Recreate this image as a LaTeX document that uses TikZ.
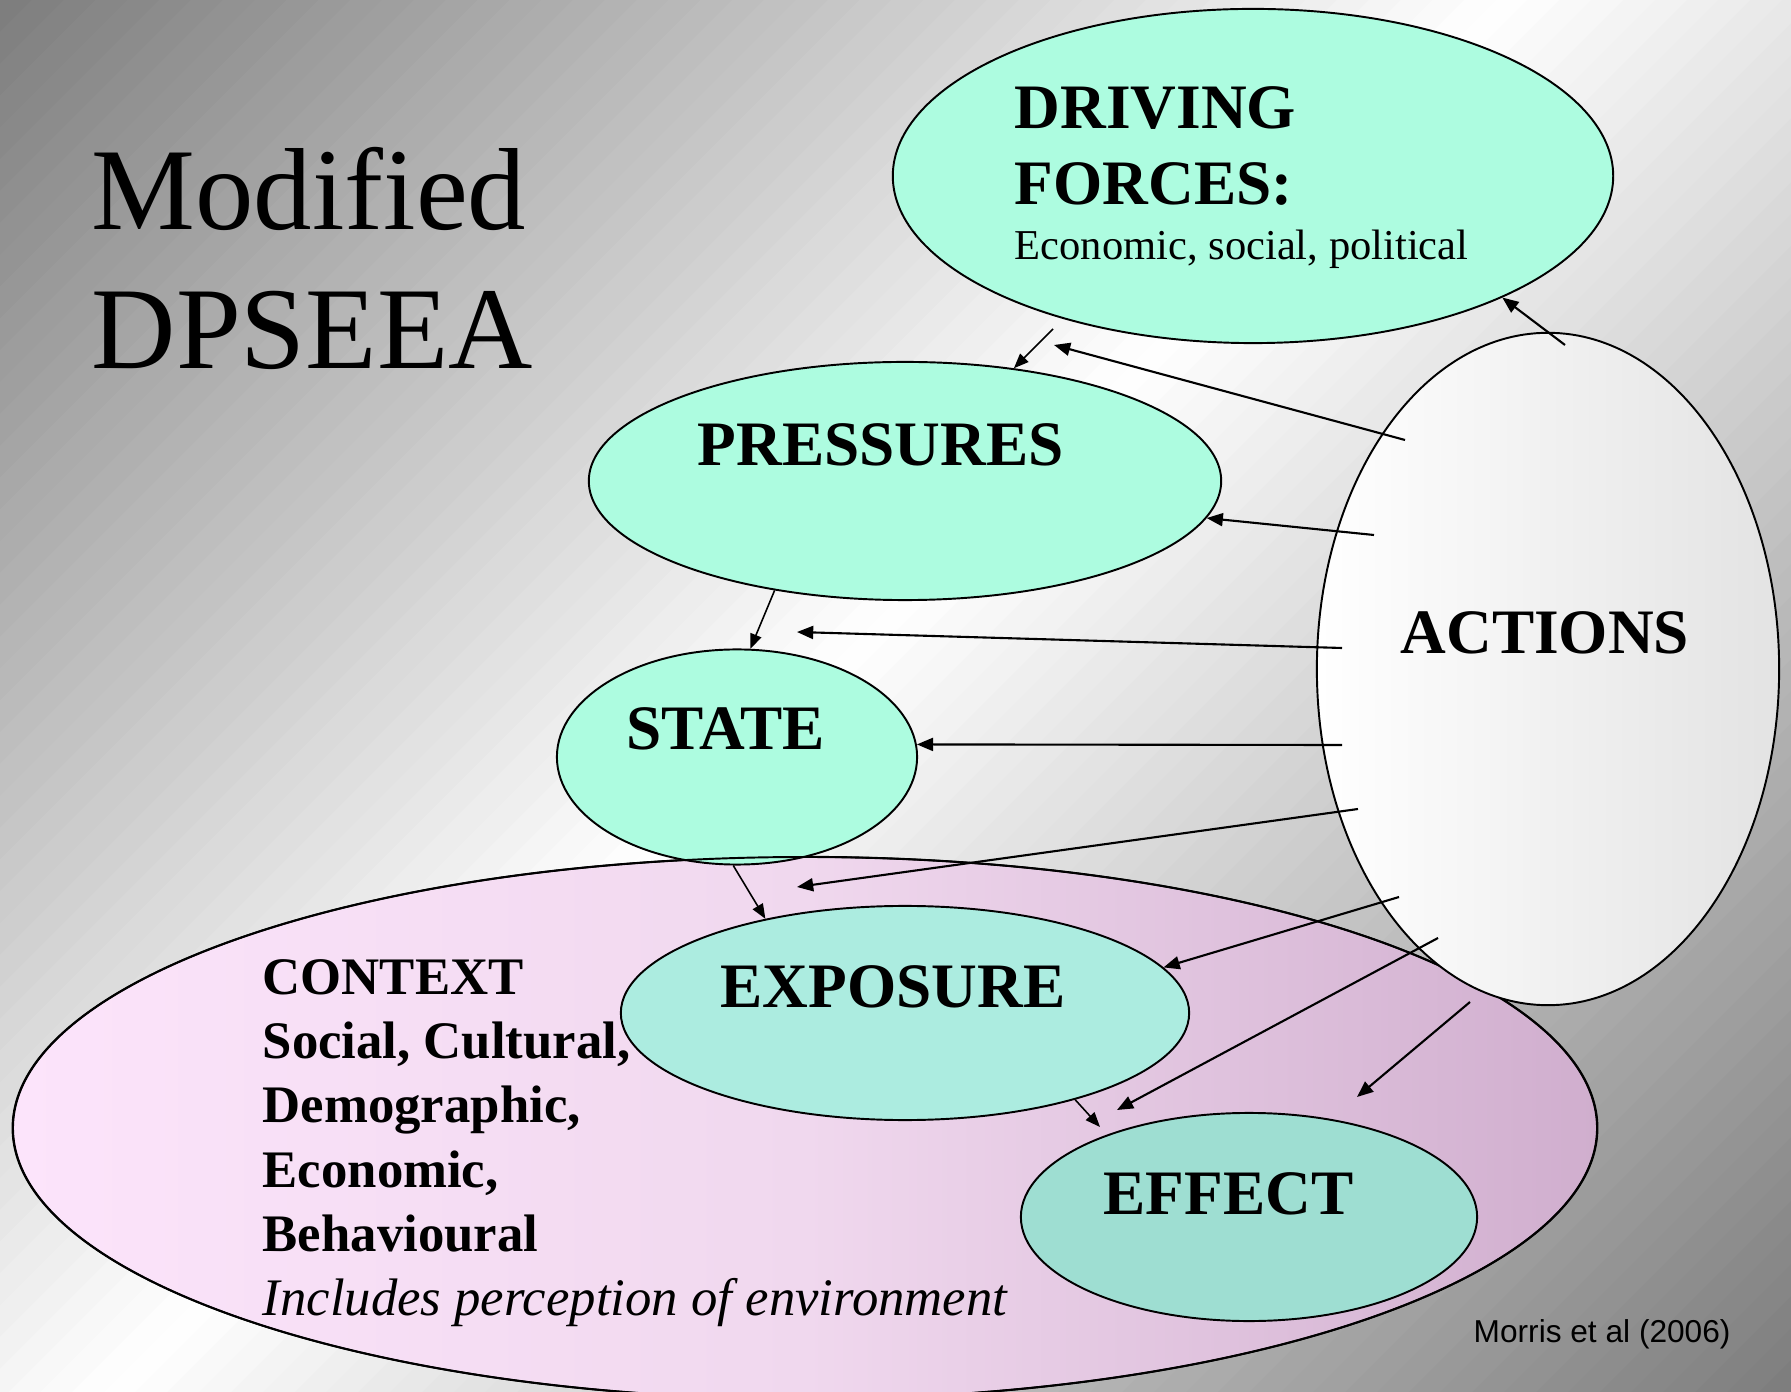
\documentclass[tikz,border=0pt]{standalone}
\usepackage{fontspec}
\setmainfont{Liberation Serif}
\newfontfamily\citefont{Liberation Sans}
\usetikzlibrary{shapes.geometric, arrows.meta, positioning}

\definecolor{bgdark}{RGB}{125,125,125}
\definecolor{mint}{RGB}{173,252,224}
\definecolor{mintexp}{RGB}{172,236,224}
\definecolor{minteff}{RGB}{158,222,210}
\definecolor{ctxlight}{RGB}{252,228,251}
\definecolor{ctxmid}{RGB}{240,216,238}
\definecolor{ctxdark}{RGB}{208,174,206}
\pgfdeclarehorizontalshading{ctxshade}{100bp}{color(0bp)=(ctxlight); color(25bp)=(ctxlight); color(50bp)=(ctxmid); color(75bp)=(ctxdark); color(100bp)=(ctxdark)}

\begin{document}
\begin{tikzpicture}[x=0.01cm, y=-0.01cm,
	stage/.style={ellipse, draw, line width=0.55pt, fill=mint, inner sep=0pt},
	stagelabel/.style={anchor=base west, inner sep=0pt, font=\fontsize{18}{21.7}\selectfont\bfseries},
	link/.style={line width=0.6pt, -{Triangle[length=4.6pt, width=3.7pt]}},
	shortlink/.style={line width=0.45pt, -{Triangle[length=4.2pt, width=3.3pt]}}]
	
	\useasboundingbox (0,0) rectangle (1791,1392);
	
	% Fundo: faixas diagonais
	\begin{scope}
		\clip (0,0) rectangle (1791,1392);
		\foreach \i in {0,...,99} {
			\pgfmathsetmacro{\sa}{\i*31.83}
			\pgfmathsetmacro{\sb}{\sa+34}
			\pgfmathsetmacro{\tm}{\sa+16}
			\pgfmathsetmacro{\p}{\tm<1500 ? 100-\tm/15 : (\tm-1500)/16.83}
			\fill[bgdark!\p!white] (\sa,0) -- (\sb,0) -- (\sb-1800,1800) -- (\sa-1800,1800) -- cycle;
		}
	\end{scope}
	
	% Contexto
	\node[ellipse, draw, line width=0.55pt, shading=ctxshade,
		minimum width=15.84cm, minimum height=5.42cm, inner sep=0pt] (context) at (805,1128) {};
	
	% Etapas
	\node[stage, minimum width=7.2cm, minimum height=3.34cm] (drive) at (1253,176) {};
	\node[stage, minimum width=6.32cm, minimum height=2.38cm] (pres) at (905,481) {};
	\node[stage, minimum width=3.6cm, minimum height=2.15cm] (state) at (737,757) {};
	\node[stage, fill=mintexp, minimum width=5.68cm, minimum height=2.14cm] (expo) at (905,1013) {};
	\node[stage, fill=minteff, minimum width=4.56cm, minimum height=2.08cm] (eff) at (1249,1217) {};
	\draw[line width=0.55pt] (context.center) ellipse [x radius=792, y radius=271];
	
	% Acoes
	\node[ellipse, draw, line width=0.55pt, left color=white, right color=black!11,
		minimum width=4.62cm, minimum height=6.72cm, inner sep=0pt] (act) at (1548,669) {};
	
	% Pontas livres das setas
	\coordinate (d0) at (1053,329);
	\coordinate (a1) at (1565,345);
	\coordinate (a2) at (1405,440);
	\coordinate (g1) at (1054,345);
	\coordinate (a3) at (1374,535);
	\coordinate (a4) at (1342,648);
	\coordinate (g2) at (797,632);
	\coordinate (a5) at (1342,745);
	\coordinate (a6) at (1358,809);
	\coordinate (g3) at (797,887);
	\coordinate (a7) at (1399,897);
	\coordinate (a8) at (1438,938);
	\coordinate (g4) at (1117,1110);
	\coordinate (g5) at (1100,1127);
	\coordinate (a9) at (1470,1002);
	\coordinate (g6) at (1357,1097);
	
	% Setas
	\foreach \s/\t in {a1/drive.-26, a2/g1, a3/pres.-7, a4/g2, a5/state.4, a6/g3, a7/expo.10, a8/g4, a9/g6}
		\draw[link] (\s) -- (\t);
	\foreach \s/\t in {d0/pres.46, pres.-140/state.83, state.-92/expo.146, expo.-27/g5}
		\draw[shortlink] (\s) -- (\t);
	
	% Textos
	\node[anchor=base west, inner sep=0pt, align=left, font=\fontsize{33.2}{39.8}\selectfont] (title) at (91,369) {Modified\\DPSEEA};
	\node[stagelabel, align=left] (drivetxt) at (1014,205) {DRIVING\\FORCES:};
	\node[anchor=base west, inner sep=0pt, font=\fontsize{12.1}{14.5}\selectfont] (drivesub) at (1014,260) {Economic, social, political};
	\node[stagelabel] (prestxt) at (697,466) {PRESSURES};
	\node[stagelabel] (acttxt) at (1400,654) {ACTIONS};
	\node[stagelabel] (statetxt) at (626,750) {STATE};
	\node[stagelabel] (expotxt) at (720,1007) {EXPOSURE};
	\node[stagelabel] (efftxt) at (1103,1214) {EFFECT};
	\node[anchor=base west, inner sep=0pt, align=left, font=\fontsize{15}{18.2}\selectfont] (ctxtxt) at (262,1315)
		{\textbf{CONTEXT}\\\textbf{Social, Cultural,}\\\textbf{Demographic,}\\\textbf{Economic,}\\\textbf{Behavioural}\\\textit{Includes perception of environment}};
	\node[anchor=base west, inner sep=0pt, font=\citefont\fontsize{9}{11}\selectfont] (cite) at (1473,1342) {Morris et al (2006)};
	
\end{tikzpicture}
\end{document}
